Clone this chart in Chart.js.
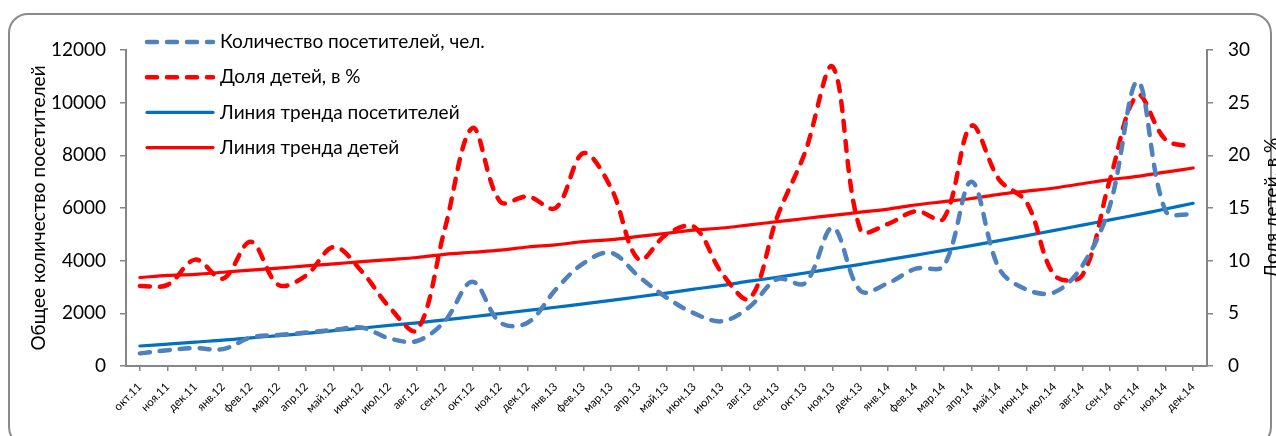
<!DOCTYPE html>
<html lang="ru">
<head>
<meta charset="utf-8">
<title>Посетители и доля детей</title>
<script src="https://cdn.jsdelivr.net/npm/chart.js@4.4.1/dist/chart.umd.min.js"></script>
<style>
  html, body { margin: 0; padding: 0; background: #fff; overflow: hidden; }
  #wrap { position: relative; width: 1276px; height: 436px; }
  #frame {
    position: absolute; left: 8px; top: 13px; width: 1260px; height: 430px;
    border: 2px solid #8a8a8a; border-radius: 20px; pointer-events: none;
  }
  #grafico { position: absolute; left: 0; top: 0; }
</style>
</head>
<body>
<div id="wrap">
  <div id="frame"></div>
  <canvas id="grafico" width="1276" height="436"></canvas>
</div>
<script>
/* ======= Dados ======= */
const months = [
  "окт.11", "ноя.11", "дек.11", "янв.12", "фев.12", "мар.12", "апр.12", "май.12", "июн.12",
  "июл.12", "авг.12", "сен.12", "окт.12", "ноя.12", "дек.12", "янв.13", "фев.13", "мар.13",
  "апр.13", "май.13", "июн.13", "июл.13", "авг.13", "сен.13", "окт.13", "ноя.13", "дек.13",
  "янв.14", "фев.14", "мар.14", "апр.14", "май.14", "июн.14", "июл.14", "авг.14", "сен.14",
  "окт.14", "ноя.14", "дек.14"
];

// visitors, people (left axis)
const visitors = [
  480, 600, 680, 640, 1080, 1180, 1270, 1370, 1460,
  1050, 950, 1700, 3200, 1650, 1650, 2900, 3900, 4300,
  3400, 2600, 2000, 1700, 2250, 3300, 3150, 5250, 2850,
  3150, 3700, 3800, 7000, 3700, 2900, 2800, 3800, 6100,
  10800, 5900, 5750
];

// share of children, % (right axis)
const childrenShare = [
  7.6, 7.7, 10.1, 8.3, 11.8, 7.7, 8.6, 11.3, 9.0,
  5.6, 3.4, 13.0, 22.6, 15.6, 16.1, 15.0, 20.2, 16.9,
  10.1, 12.5, 13.2, 8.8, 6.4, 14.2, 20.3, 28.4, 12.9,
  13.5, 14.7, 14.0, 22.8, 17.7, 15.5, 8.6, 8.6, 17.7,
  25.7, 21.5, 20.8
];

// trend lines
const visitorsTrend = [
  760, 830, 910, 980, 1070, 1150, 1240, 1340, 1440,
  1540, 1640, 1750, 1870, 1990, 2110, 2230, 2360, 2490,
  2630, 2770, 2920, 3060, 3220, 3370, 3530, 3700, 3860,
  4040, 4210, 4390, 4570, 4760, 4950, 5150, 5350, 5550,
  5750, 5960, 6180
];

const childrenTrend = [
  8.4, 8.6, 8.7, 8.9, 9.1, 9.3, 9.5, 9.7, 9.9,
  10.1, 10.3, 10.6, 10.8, 11.0, 11.3, 11.5, 11.8, 12.0,
  12.3, 12.6, 12.9, 13.1, 13.4, 13.7, 14.0, 14.3, 14.6,
  14.9, 15.3, 15.6, 15.9, 16.3, 16.6, 16.9, 17.3, 17.7,
  18.0, 18.4, 18.8
];

const seriesNames = [
  "Количество посетителей, чел.",
  "Доля детей, в %",
  "Линия тренда посетителей",
  "Линия тренда детей"
];

const leftTicks = [0, 2000, 4000, 6000, 8000, 10000, 12000];
const rightTicks = [0, 5, 10, 15, 20, 25, 30];

/* ======= Aparência ======= */
const FONT = "Lato, 'Open Sans', 'Noto Sans', sans-serif";
const AXIS_GREY = "#868686";

/* legend drawn inside the frame, plus the right axis title (reads bottom-up) */
const legendInside = {
  id: 'legendInside',
  afterDraw(chart) {
    const ctx = chart.ctx;
    ctx.save();
    chart.data.datasets.forEach((ds, i) => {
      const y = 42 + i * 35.2;
      ctx.beginPath();
      ctx.lineWidth = ds.borderWidth;
      ctx.strokeStyle = ds.borderColor;
      ctx.lineCap = ds.borderCapStyle || 'butt';
      ctx.setLineDash(ds.borderDash || []);
      ctx.moveTo(147, y);
      ctx.lineTo(213, y);
      ctx.stroke();
      ctx.setLineDash([]);
      ctx.fillStyle = '#000';
      ctx.font = '19px ' + FONT;
      ctx.textAlign = 'left';
      ctx.textBaseline = 'middle';
      ctx.fillText(ds.label, 220, y);
    });

    ctx.translate(1272, 208);
    ctx.rotate(-Math.PI / 2);
    ctx.font = '19px ' + FONT;
    ctx.fillStyle = '#000';
    ctx.textAlign = 'center';
    ctx.textBaseline = 'middle';
    ctx.fillText("Доля детей, в %", 0, 0);
    ctx.restore();
  }
};

function criarGrafico() {
  const smooth = { tension: 0.35, pointRadius: 0, pointHoverRadius: 0, fill: false };

  new Chart(document.getElementById('grafico'), {
    type: 'line',
    data: {
      labels: months,
      datasets: [
        { ...smooth, label: seriesNames[0], data: visitors, yAxisID: 'y',
          borderColor: '#4F81BD', borderWidth: 4.5, borderDash: [10, 10], borderCapStyle: 'round' },
        { ...smooth, label: seriesNames[1], data: childrenShare, yAxisID: 'y2',
          borderColor: '#FF0000', borderWidth: 4.5, borderDash: [10, 10], borderCapStyle: 'round' },
        { ...smooth, label: seriesNames[2], data: visitorsTrend, yAxisID: 'y',
          borderColor: '#0070C0', borderWidth: 3.2, borderCapStyle: 'round' },
        { ...smooth, label: seriesNames[3], data: childrenTrend, yAxisID: 'y2',
          borderColor: '#FF0000', borderWidth: 3.2, borderCapStyle: 'round' }
      ]
    },
    options: {
      responsive: false,
      animation: false,
      events: [],
      layout: { padding: { top: 50, left: 0, right: 0, bottom: 0 } },
      plugins: {
        legend: { display: false },
        tooltip: { enabled: false }
      },
      scales: {
        x: {
          offset: true,
          grid: { display: true, drawOnChartArea: false, tickLength: 5, color: AXIS_GREY, lineWidth: 1.5 },
          border: { color: AXIS_GREY, width: 2 },
          ticks: {
            color: '#000', font: { family: FONT, size: 11.5 },
            minRotation: 45, maxRotation: 45, autoSkip: false, padding: 9
          },
          afterFit: s => { s.height = 70; }
        },
        y: {
          position: 'left',
          min: 0, max: 12000,
          afterBuildTicks: s => { s.ticks = leftTicks.map(v => ({ value: v })); },
          grid: { display: true, drawOnChartArea: false, tickLength: 6, color: AXIS_GREY, lineWidth: 1.5 },
          border: { color: AXIS_GREY, width: 2 },
          ticks: { color: '#000', font: { family: FONT, size: 19 }, padding: 14, callback: v => String(v) },
          title: {
            display: true, text: "Общее количество посетителей",
            color: '#000', font: { family: FONT, size: 19 }, padding: { top: 27, bottom: 0 }
          },
          afterFit: s => { s.width = 126; }
        },
        y2: {
          position: 'right',
          min: 0, max: 30,
          afterBuildTicks: s => { s.ticks = rightTicks.map(v => ({ value: v })); },
          grid: { display: true, drawOnChartArea: false, tickLength: 6, color: AXIS_GREY, lineWidth: 1.5 },
          border: { color: AXIS_GREY, width: 2 },
          ticks: { color: '#000', font: { family: FONT, size: 19 }, padding: 15, callback: v => String(v) },
          afterFit: s => { s.width = 69; }
        }
      }
    },
    plugins: [legendInside]
  });
}

document.addEventListener('DOMContentLoaded', criarGrafico);
</script>
</body>
</html>
